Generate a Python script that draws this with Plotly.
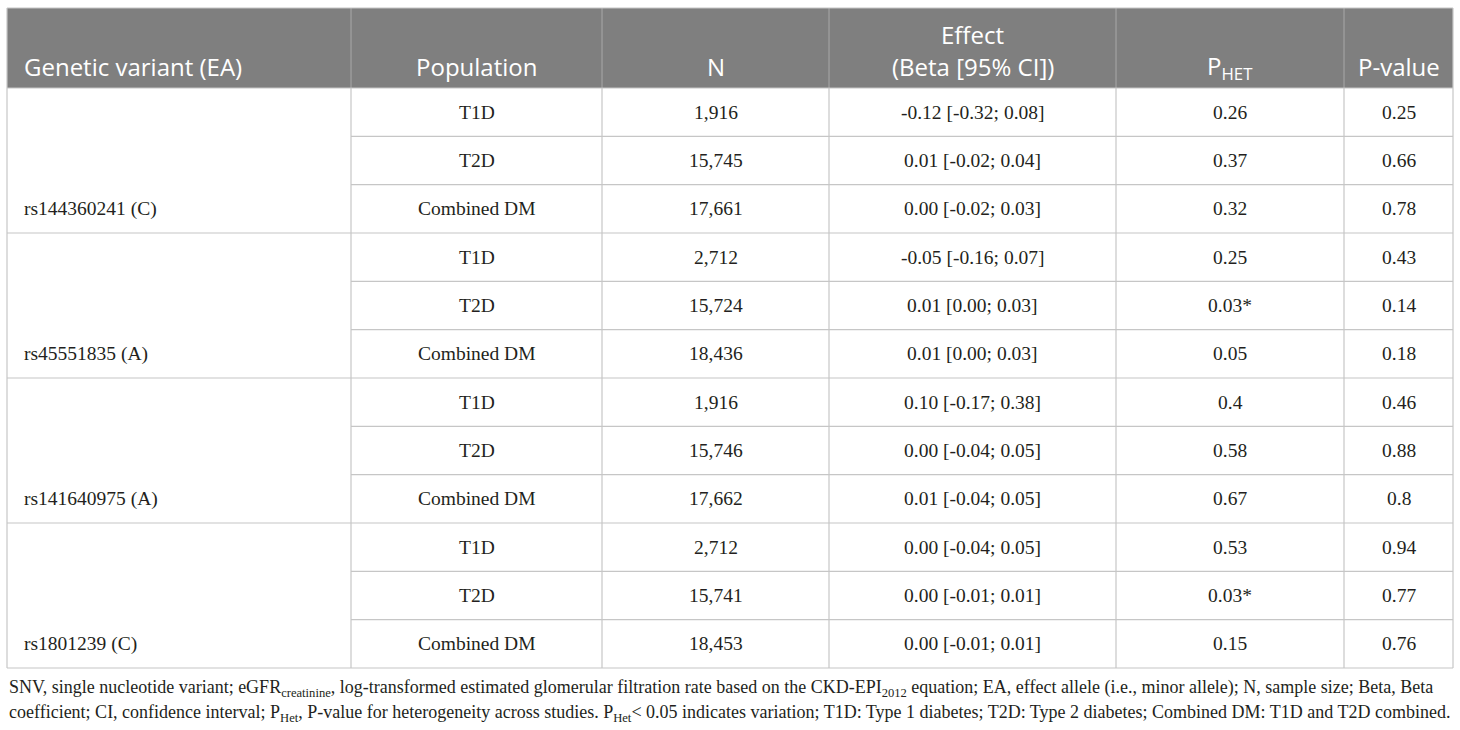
import plotly.graph_objects as go

# ---------------- data ----------------
header_labels = ["Genetic variant (EA)", "Population", "N",
                 "Effect<br>(Beta [95% CI])", "P<sub>HET</sub>", "P-value"]
variants = ["rs144360241 (C)", "rs45551835 (A)", "rs141640975 (A)", "rs1801239 (C)"]
populations = ["T1D", "T2D", "Combined DM"] * 4
n_values = ["1,916", "15,745", "17,661",
            "2,712", "15,724", "18,436",
            "1,916", "15,746", "17,662",
            "2,712", "15,741", "18,453"]
effects = ["-0.12 [-0.32; 0.08]", "0.01 [-0.02; 0.04]", "0.00 [-0.02; 0.03]",
           "-0.05 [-0.16; 0.07]", "0.01 [0.00; 0.03]", "0.01 [0.00; 0.03]",
           "0.10 [-0.17; 0.38]", "0.00 [-0.04; 0.05]", "0.01 [-0.04; 0.05]",
           "0.00 [-0.04; 0.05]", "0.00 [-0.01; 0.01]", "0.00 [-0.01; 0.01]"]
p_het = ["0.26", "0.37", "0.32",
         "0.25", "0.03*", "0.05",
         "0.4", "0.58", "0.67",
         "0.53", "0.03*", "0.15"]
p_value = ["0.25", "0.66", "0.78",
           "0.43", "0.14", "0.18",
           "0.46", "0.88", "0.8",
           "0.94", "0.77", "0.76"]
footnote_lines = [
    "SNV, single nucleotide variant; eGFR<sub>creatinine</sub>, log-transformed estimated glomerular filtration rate based on the CKD-EPI<sub>2012</sub> equation; EA, effect allele (i.e., minor allele); N, sample size; Beta, Beta",
    "coefficient; CI, confidence interval; P<sub>Het</sub>, P-value for heterogeneity across studies. P<sub>Het</sub>< 0.05 indicates variation; T1D: Type 1 diabetes; T2D: Type 2 diabetes; Combined DM: T1D and T2D combined.",
]

# ---------------- layout geometry (style) ----------------
W, H = 1460, 730
col_edges = [7, 351, 602, 829, 1116, 1344, 1453]
top, head_bot, bottom = 8, 88, 668
n_rows = len(populations)
group = 3
row_h = (bottom - head_bot) / n_rows
pad_left = 15

HEAD_FILL = "#7f7f7f"
LINE = "#c6c6c6"
HEAD_LINE = "#a9a9a9"
TXT = "#231f20"
SERIF = "Liberation Serif, Times New Roman, serif"
SANS = "Open Sans, Noto Sans, sans-serif"

fig = go.Figure()
shapes = []
ann = []

# header background
shapes.append(dict(type="rect", xref="x", yref="y", x0=col_edges[0], x1=col_edges[-1],
                   y0=top, y1=head_bot, fillcolor=HEAD_FILL, line=dict(width=0), layer="below"))

# vertical lines
for i, xe in enumerate(col_edges):
    inner = 0 < i < len(col_edges) - 1
    if inner:
        shapes.append(dict(type="line", xref="x", yref="y", x0=xe, x1=xe, y0=top, y1=head_bot,
                           line=dict(color=HEAD_LINE, width=1)))
    shapes.append(dict(type="line", xref="x", yref="y", x0=xe, x1=xe,
                       y0=head_bot if inner else top, y1=bottom,
                       line=dict(color=LINE, width=1.2)))

# top border
shapes.append(dict(type="line", xref="x", yref="y", x0=col_edges[0], x1=col_edges[-1], y0=top, y1=top,
                   line=dict(color=LINE, width=1.2)))
# horizontal row lines
for r in range(n_rows + 1):
    y = head_bot + r * row_h
    x0 = col_edges[0] if (r % group == 0) else col_edges[1]
    shapes.append(dict(type="line", xref="x", yref="y", x0=x0, x1=col_edges[-1], y0=y, y1=y,
                       line=dict(color=LINE, width=1.2)))

# header text (bottom aligned)
head_line_y = [34, 66.5]
for c, lab in enumerate(header_labels):
    parts = lab.split("<br>")
    ys = head_line_y[-len(parts):]
    for part, yy in zip(parts, ys):
        if c == 0:
            ann.append(dict(x=col_edges[0] + pad_left, y=yy, xref="x", yref="y",
                            text=part, showarrow=False, xanchor="left", yanchor="middle",
                            font=dict(family=SANS, size=24, color="white")))
        else:
            ann.append(dict(x=(col_edges[c] + col_edges[c + 1]) / 2, y=yy, xref="x", yref="y",
                            text=part, showarrow=False, xanchor="center", yanchor="middle",
                            font=dict(family=SANS, size=24, color="white")))

# body text
body_cols = [populations, n_values, effects, p_het, p_value]
for r in range(n_rows):
    yc = head_bot + (r + 0.5) * row_h
    for k, col in enumerate(body_cols):
        c = k + 1
        ann.append(dict(x=(col_edges[c] + col_edges[c + 1]) / 2, y=yc, xref="x", yref="y",
                        text=col[r], showarrow=False, xanchor="center", yanchor="middle",
                        font=dict(family=SERIF, size=19.5, color=TXT)))
for g, v in enumerate(variants):
    yc = head_bot + (g * group + group - 0.5) * row_h
    ann.append(dict(x=col_edges[0] + pad_left, y=yc, xref="x", yref="y",
                    text=v, showarrow=False, xanchor="left", yanchor="middle",
                    font=dict(family=SERIF, size=19.5, color=TXT)))

# footnote
for i, line in enumerate(footnote_lines):
    ann.append(dict(x=col_edges[0], y=688 + i * 25, xref="x", yref="y",
                    text=line, showarrow=False, xanchor="left", yanchor="middle",
                    font=dict(family=SERIF, size=18, color=TXT)))

fig.update_layout(
    width=W, height=H, margin=dict(l=0, r=0, t=0, b=0),
    paper_bgcolor="white", plot_bgcolor="white",
    xaxis=dict(range=[0, W], visible=False, fixedrange=True),
    yaxis=dict(range=[H, 0], visible=False, fixedrange=True),
    shapes=shapes, annotations=ann, showlegend=False,
)
fig.write_html("out.html",
               config={"displayModeBar": False},
               post_script="document.body.style.margin='0';document.body.style.overflow='hidden';")
